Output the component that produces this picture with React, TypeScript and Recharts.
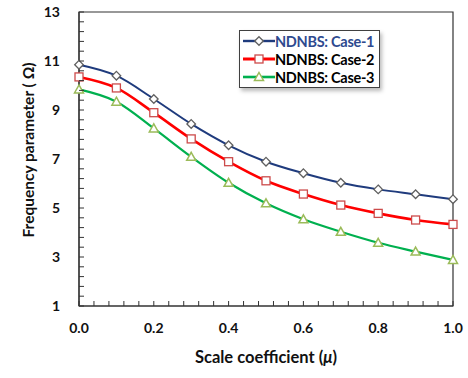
import React from 'react';
import { LineChart, Line, XAxis, YAxis, ReferenceArea, Legend } from 'recharts';

// scale coefficient values along x
const MU = [0, 0.1, 0.2, 0.3, 0.4, 0.5, 0.6, 0.7, 0.8, 0.9, 1.0];

// frequency parameter
const CASE_1 = [10.85, 10.4, 9.45, 8.43, 7.56, 6.89, 6.42, 6.03, 5.76, 5.56, 5.36];
const CASE_2 = [10.35, 9.9, 8.89, 7.82, 6.89, 6.11, 5.57, 5.12, 4.78, 4.51, 4.33];
const CASE_3 = [9.84, 9.34, 8.25, 7.09, 6.03, 5.19, 4.54, 4.03, 3.58, 3.22, 2.88];

const SERIES_NAMES = ['NDNBS: Case-1', 'NDNBS: Case-2', 'NDNBS: Case-3'];

// ticks (minor every 0.04 / 0.4, labels every 0.2 / 2)
const X_TICKS = [0, 0.04, 0.08, 0.12, 0.16, 0.2, 0.24, 0.28, 0.32, 0.36, 0.4, 0.44, 0.48, 0.52, 0.56, 0.6,
  0.64, 0.68, 0.72, 0.76, 0.8, 0.84, 0.88, 0.92, 0.96, 1.0];
const X_LABELS = [0, 0.2, 0.4, 0.6, 0.8, 1.0];
const Y_TICKS = [1, 1.4, 1.8, 2.2, 2.6, 3, 3.4, 3.8, 4.2, 4.6, 5, 5.4, 5.8, 6.2, 6.6, 7, 7.4, 7.8, 8.2, 8.6,
  9, 9.4, 9.8, 10.2, 10.6, 11, 11.4, 11.8, 12.2, 12.6, 13];
const Y_LABELS = [1, 3, 5, 7, 9, 11, 13];

const data = MU.map((mu, i) => ({ mu, c1: CASE_1[i], c2: CASE_2[i], c3: CASE_3[i] }));

const FONT = 'Lato, "Open Sans", sans-serif';
const KEYS = ['c1', 'c2', 'c3'];
const LINE_COLORS = ['#1f3b7d', '#ff0000', '#00b04f'];
const MARKER_COLORS = ['#606060', '#cc4b4b', '#9bbb59'];
const LINE_WIDTHS = [2, 2.6, 2.2];

const Marker = ({ kind, cx, cy }: { kind: number; cx: number; cy: number }) => {
  if (kind === 0) {
    const r = 4.3;
    return <polygon points={`${cx},${cy - r} ${cx + r},${cy} ${cx},${cy + r} ${cx - r},${cy}`}
      fill="#fff" stroke={MARKER_COLORS[0]} strokeWidth={1.3} />;
  }
  if (kind === 1) {
    return <rect x={cx - 4} y={cy - 4} width={8} height={8} fill="#fff" stroke={MARKER_COLORS[1]} strokeWidth={1.3} />;
  }
  return <polygon points={`${cx},${cy - 4.5} ${cx + 4.5},${cy + 3.5} ${cx - 4.5},${cy + 3.5}`}
    fill="#fff" stroke={MARKER_COLORS[2]} strokeWidth={1.5} />;
};

const near = (list: number[], v: number) => list.some((l) => Math.abs(l - v) < 1e-6);

const XTick = (props: any) => {
  const { x, y, payload } = props;
  const v = payload.value;
  return (
    <g>
      <line x1={x} y1={y} x2={x} y2={y - 5} stroke="#333" strokeWidth={1} />
      {near(X_LABELS, v) && (
        <text x={x} y={y + 27} textAnchor="middle" fontFamily={FONT} fontWeight="bold" fontSize={14} fill="#111">
          {v.toFixed(1)}
        </text>
      )}
    </g>
  );
};

const YTick = (props: any) => {
  const { x, y, payload } = props;
  const v = payload.value;
  return (
    <g>
      <line x1={x} y1={y} x2={x + 5} y2={y} stroke="#333" strokeWidth={1} />
      {near(Y_LABELS, v) && (
        <text x={x - 19} y={y + 5} textAnchor="end" fontFamily={FONT} fontWeight="bold" fontSize={14} fill="#111">
          {v}
        </text>
      )}
    </g>
  );
};

const renderLegend = () => (
  <div style={{
    border: '1.5px solid #404040', background: '#fff', width: 141, height: 58, boxSizing: 'border-box',
    boxShadow: '2px 3px 4px #bbb', padding: '1px 0 0 3px',
  }}>
    {SERIES_NAMES.map((name, i) => (
      <div key={name} style={{ display: 'flex', alignItems: 'center', height: 18 }}>
        <svg width={32} height={14}>
          <line x1={0} y1={7} x2={32} y2={7} stroke={LINE_COLORS[i]} strokeWidth={LINE_WIDTHS[i] + 0.4} />
          <Marker kind={i} cx={16} cy={7} />
        </svg>
        <span style={{
          fontFamily: FONT, fontWeight: 'bold', fontSize: 14.5, color: i === 0 ? '#2e4a8f' : '#000',
          whiteSpace: 'nowrap', letterSpacing: -0.3,
        }}>{name}</span>
      </div>
    ))}
  </div>
);

const XTitle = (props: any) => {
  const { viewBox } = props;
  const cx = viewBox.x + viewBox.width / 2;
  return (
    <text x={cx} y={363} textAnchor="middle" fontFamily={FONT} fontWeight="bold" fontSize={16.5} fill="#111">
      Scale coefficient (<tspan fontStyle="italic">μ</tspan>)
    </text>
  );
};

const YTitle = () => (
  <text x={0} y={0} transform="translate(34,150) rotate(-90)" textAnchor="middle"
    fontFamily={FONT} fontWeight="bold" fontSize={15.5} fill="#111">
    Frequency parameter ( Ω)
  </text>
);

export default function App() {
  return (
    <div style={{ position: 'absolute', left: 0, top: 0, width: 468, height: 378, background: '#fff' }}>
      <LineChart width={468} height={378} data={data} margin={{ top: 12, right: 15, bottom: 0, left: 0 }}>
        <XAxis type="number" dataKey="mu" domain={[0, 1]} ticks={X_TICKS} interval={0} height={72}
          tickSize={0} tickMargin={0} tickLine={false} tick={<XTick />}
          axisLine={{ stroke: '#333', strokeWidth: 1.2 }} label={<XTitle />} />
        <YAxis type="number" domain={[1, 13]} ticks={Y_TICKS} interval={0} width={79}
          tickSize={0} tickMargin={0} tickLine={false} tick={<YTick />}
          axisLine={{ stroke: '#333', strokeWidth: 1.2 }} label={<YTitle />} />
        <ReferenceArea x1={0} x2={1} y1={1} y2={13} fill="none" stroke="#333" strokeWidth={1.2} />
        {KEYS.map((k, i) => (
          <Line key={k} type="monotone" dataKey={k} name={SERIES_NAMES[i]} stroke={LINE_COLORS[i]}
            strokeWidth={LINE_WIDTHS[i]} isAnimationActive={false}
            dot={(p: any) => <Marker key={`${k}-${p.index}`} kind={i} cx={p.cx} cy={p.cy} />}
            activeDot={false} />
        ))}
        <Legend layout="vertical" align="center" verticalAlign="middle" content={renderLegend}
          wrapperStyle={{ left: 239, top: 30, width: 141, height: 58 }} />
      </LineChart>
    </div>
  );
}
